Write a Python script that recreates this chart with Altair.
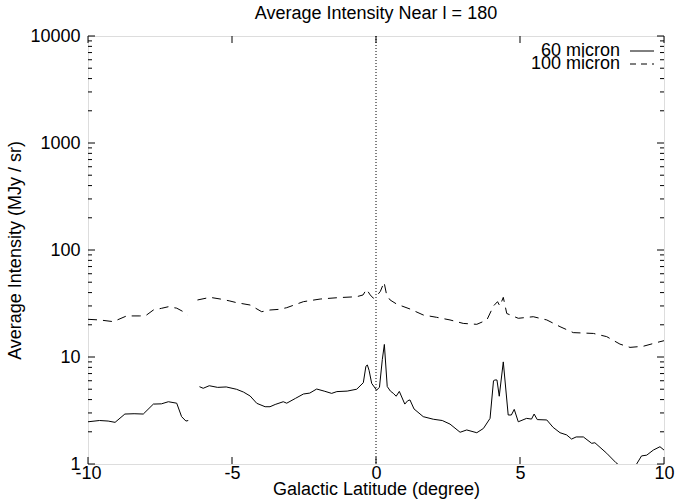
import altair as alt
import pandas as pd

# 60 micron (solid); None marks a gap in the data
lat60 = [-10.0, -9.6, -9.3, -9.06, -8.72, -8.4, -8.08, -7.73, -7.45, -7.21, -6.92, -6.75, -6.6, -6.52,
         None,
         -6.13, -6.0, -5.79, -5.5, -5.2, -4.84, -4.6, -4.37, -4.14, -3.85, -3.68, -3.5, -3.22, -3.1,
         -2.8, -2.52, -2.3, -2.06, -1.8, -1.54, -1.36, -1.0, -0.67, -0.44, -0.35, -0.30, -0.24, -0.15,
         0.02, 0.12, 0.22, 0.29, 0.39, 0.5, 0.6, 0.7, 0.81, 1.0, 1.1, 1.18, 1.32, 1.64, 1.99, 2.3,
         2.57, 2.92, 3.15, 3.5, 3.73, 3.96, 4.08, 4.13, 4.2, 4.28, 4.42, 4.59, 4.7, 4.8, 4.94, 5.23,
         5.4, 5.49, 5.6, 5.93, 6.15, 6.39, 6.62, 6.79, 6.95, 7.2, 7.49, 7.6, 8.01, 8.33, 8.6, 8.9,
         9.05, 9.22, 9.4, 9.63, 9.86, 10.0]
val60 = [2.48, 2.55, 2.52, 2.45, 2.93, 2.95, 2.93, 3.63, 3.65, 3.82, 3.7, 2.77, 2.52, 2.55,
         None,
         5.28, 5.1, 5.39, 5.2, 5.25, 4.99, 4.7, 4.32, 3.69, 3.43, 3.43, 3.6, 3.82, 3.7,
         4.1, 4.51, 4.6, 5.02, 4.8, 4.57, 4.75, 4.8, 5.0, 5.75, 8.2, 8.42, 7.5, 5.67,
         4.9, 5.2, 9.5, 13.1, 5.3, 4.8, 4.58, 4.3, 4.77, 3.63, 3.9, 3.97, 3.27, 2.77, 2.62, 2.55,
         2.36, 1.98, 2.08, 1.96, 2.15, 2.67, 6.0, 6.1, 6.1, 4.3, 9.0, 2.87, 2.87, 3.24, 2.48, 2.67,
         2.63, 2.93, 2.6, 2.58, 2.2, 1.96, 1.87, 1.71, 1.79, 1.79, 1.56, 1.58, 1.26, 1.03, 0.9, 0.9,
         1.0, 1.19, 1.21, 1.35, 1.45, 1.35]

# 100 micron (dashed)
lat100 = [-10.0, -9.6, -9.12, -8.66, -8.2, -8.0, -7.73, -7.45, -7.21, -6.92, -6.69, -6.55,
          None,
          -6.2, -5.76, -5.4, -5.1, -4.84, -4.37, -3.97, -3.68, -3.35, -3.1, -2.52, -1.94,
          -1.36, -0.67, -0.45, -0.33, -0.2, -0.09, 0.05, 0.15, 0.28, 0.37, 0.49, 0.72, 1.18, 1.64,
          2.1, 2.57, 3.03, 3.5, 3.85, 4.08, 4.22, 4.3, 4.42, 4.54, 4.94, 5.46, 5.93, 6.39, 6.85,
          7.55, 8.01, 8.47, 8.82, 9.28, 9.86, 10.0]
val100 = [22.5, 22.2, 21.4, 24.2, 24.2, 24.3, 27.5, 28.5, 29.5, 28.6, 26.5, 24.7,
          None,
          34.1, 36.1, 34.8, 33.5, 32.2, 30.6, 26.5, 27.5, 27.9, 28.9, 32.9, 34.8,
          35.8, 36.6, 38.0, 42.9, 38.0, 35.4, 38.0, 41.0, 49.9, 38.0, 34.1, 31.2, 28.1, 24.7,
          23.5, 22.2, 20.6, 20.2, 22.2, 30.0, 32.9, 30.0, 36.1, 25.5, 23.0, 23.8, 22.2, 19.2, 16.9,
          16.6, 15.5, 13.2, 12.3, 12.6, 13.9, 14.2]

legend_labels = ["60 micron", "100 micron"]
x_ticks = [-10, -5, 0, 5, 10]
y_ticks = [1, 10, 100, 1000, 10000]
y_minor = [m * 10 ** d for d in range(4) for m in range(2, 10)]

W, H = 576, 428
FONT = "Liberation Sans"
FS = 18


def series_df(lat, val, name):
    rows, seg = [], 0
    for x, y in zip(lat, val):
        if x is None:
            seg += 1
            continue
        rows.append({"lat": x, "val": y, "series": name, "seg": seg})
    return pd.DataFrame(rows)


d60 = series_df(lat60, val60, legend_labels[0])
d100 = series_df(lat100, val100, legend_labels[1])

xscale = alt.Scale(domain=[-10, 10], nice=False, zero=False)
yscale = alt.Scale(type="log", domain=[1, 10000], nice=False)

xaxis = alt.Axis(values=x_ticks, ticks=False, domain=False, grid=False, labelFontSize=FS,
                 labelFont=FONT, labelColor="black", labelPadding=0, labelExpr="datum.value",
                 title="Galactic Latitude (degree)", labelFlush=False,
                 titleFont=FONT, titleFontSize=FS, titleFontWeight="normal", titleColor="black",
                 titlePadding=-2)
yaxis = alt.Axis(values=y_ticks, ticks=False, domain=False, grid=False, labelFontSize=FS,
                 labelFont=FONT, labelColor="black", labelPadding=8, labelExpr="datum.value",
                 title="Average Intensity (MJy / sr)", titleFont=FONT, titleFontSize=FS,
                 titleFontWeight="normal", titleColor="black", titlePadding=5,
                 labelBaseline="middle", labelFlush=False)


def X(field="lat"):
    return alt.X(f"{field}:Q", scale=xscale, axis=xaxis, title="Galactic Latitude (degree)")


def Y(field="val"):
    return alt.Y(f"{field}:Q", scale=yscale, axis=yaxis, title="Average Intensity (MJy / sr)")


line60 = alt.Chart(d60).mark_line(color="black", strokeWidth=1, clip=True).encode(
    x=X(), y=Y(), detail="seg:N", order="lat:Q")
line100 = alt.Chart(d100).mark_line(color="black", strokeWidth=1, strokeDash=[9, 6], clip=True).encode(
    x=X(), y=Y(), detail="seg:N", order="lat:Q")

zero_line = alt.Chart(pd.DataFrame({"lat": [0]})).mark_rule(
    color="black", strokeWidth=1, strokeDash=[1, 2]).encode(
    x=X(), y=alt.value(0), y2=alt.value(H))

xt = pd.DataFrame({"lat": x_ticks})
xt_bottom = alt.Chart(xt).mark_rule(color="black").encode(
    x=X(), y=alt.value(H), y2=alt.value(H - 7))
xt_top = alt.Chart(xt).mark_rule(color="black").encode(
    x=X(), y=alt.value(0), y2=alt.value(7))

yt = pd.DataFrame({"val": y_ticks})
ym = pd.DataFrame({"val": y_minor})
yt_left = alt.Chart(yt).mark_rule(color="black").encode(
    y=Y(), x=alt.value(0), x2=alt.value(7))
yt_right = alt.Chart(yt).mark_rule(color="black").encode(
    y=Y(), x=alt.value(W), x2=alt.value(W - 7))
ym_left = alt.Chart(ym).mark_rule(color="black").encode(
    y=Y(), x=alt.value(0), x2=alt.value(4))
ym_right = alt.Chart(ym).mark_rule(color="black").encode(
    y=Y(), x=alt.value(W), x2=alt.value(W - 4))

# legend (manual, gnuplot style: label left of sample)
one = pd.DataFrame({"a": [0]})
leg_text1 = alt.Chart(one).mark_text(align="right", baseline="middle", fontSize=FS, font=FONT,
                                     color="black", text=legend_labels[0]).encode(
    x=alt.value(532), y=alt.value(15))
leg_text2 = alt.Chart(one).mark_text(align="right", baseline="middle", fontSize=FS, font=FONT,
                                     color="black", text=legend_labels[1]).encode(
    x=alt.value(532), y=alt.value(28))
leg_solid = alt.Chart(one).mark_rule(color="black").encode(
    x=alt.value(542), x2=alt.value(566), y=alt.value(15))
leg_dash = alt.Chart(one).mark_rule(color="black", strokeDash=[6, 5]).encode(
    x=alt.value(542), x2=alt.value(566), y=alt.value(28))

chart = alt.layer(
    zero_line, line100, line60,
    xt_bottom, xt_top, yt_left, yt_right, ym_left, ym_right,
    leg_text1, leg_text2, leg_solid, leg_dash,
).properties(
    width=W, height=H,
    title=alt.TitleParams("Average Intensity Near l = 180", font=FONT, fontSize=FS,
                          fontWeight="normal", color="black", offset=4),
    autosize=alt.AutoSizeParams(type="none"),
    padding={"left": 88, "top": 36, "right": 18, "bottom": 37},
).configure_view(stroke="black", strokeWidth=1.5).configure(background="white")

chart.save("out.html", embed_options={"renderer": "svg", "actions": False})
